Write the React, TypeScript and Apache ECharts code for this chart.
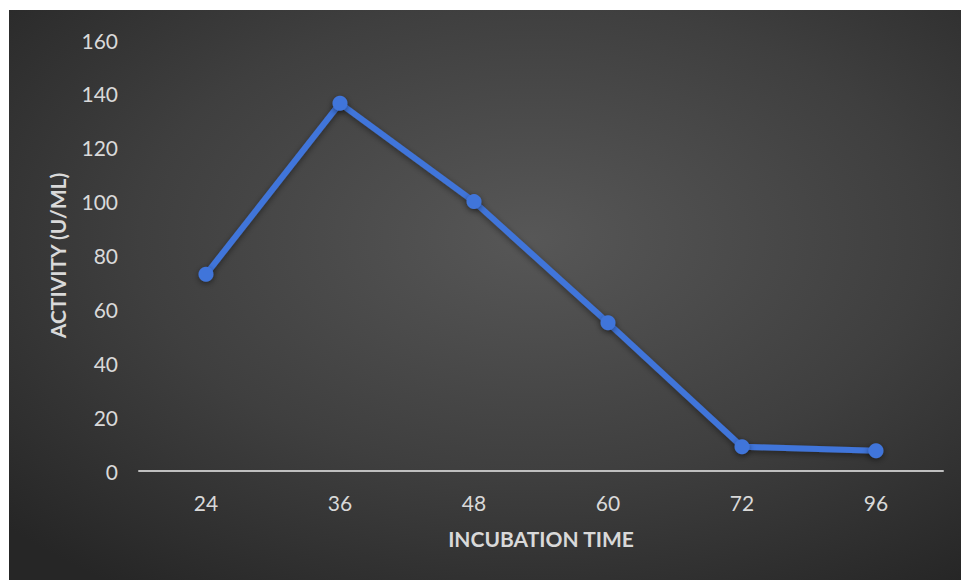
import React, { useEffect, useRef } from "react";
import * as echarts from "echarts";

// Enzyme activity over incubation time
const incubationHours = ["24", "36", "48", "60", "72", "96"];
const activityValues = [73, 136.5, 100, 55, 9, 7.5];
const yTicks = { min: 0, max: 160, interval: 20 };

const FONT = "Lato, 'Open Sans', sans-serif";

export default function App() {
  const ref = useRef<HTMLDivElement>(null);

  useEffect(() => {
    if (!ref.current) return;
    const chart = echarts.init(ref.current, undefined, { renderer: "svg" });
    chart.setOption({
      animation: false,
      backgroundColor: {
        type: "radial",
        x: 0.55,
        y: 0.4,
        r: 0.75,
        colorStops: [
          { offset: 0, color: "#575757" },
          { offset: 0.55, color: "#3f3f3f" },
          { offset: 1, color: "#262626" },
        ],
      },
      grid: { left: 130, right: 18, top: 30, bottom: 109 },
      xAxis: {
        type: "category",
        data: incubationHours,
        boundaryGap: true,
        name: "INCUBATION TIME",
        nameLocation: "middle",
        nameGap: 57,
        nameTextStyle: {
          color: "#d9d9d9",
          fontFamily: FONT,
          fontWeight: "bold",
          fontSize: 21,
        },
        axisLine: { lineStyle: { color: "#bfbfbf", width: 2 } },
        axisTick: { show: false },
        axisLabel: {
          color: "#d9d9d9",
          fontFamily: FONT,
          fontSize: 21,
          margin: 21,
        },
      },
      yAxis: {
        type: "value",
        min: yTicks.min,
        max: yTicks.max,
        interval: yTicks.interval,
        name: "ACTIVITY (U/ML)",
        nameLocation: "middle",
        nameRotate: 90,
        nameGap: 71,
        nameTextStyle: {
          color: "#d9d9d9",
          fontFamily: FONT,
          fontWeight: "bold",
          fontSize: 21,
        },
        axisLine: { show: false },
        axisTick: { show: false },
        splitLine: { show: false },
        axisLabel: {
          color: "#d9d9d9",
          fontFamily: FONT,
          fontSize: 21,
          margin: 21,
        },
      },
      series: [
        {
          type: "line",
          data: activityValues,
          symbol: "circle",
          symbolSize: 15,
          lineStyle: {
            color: "#4175da",
            width: 6,
            shadowColor: "rgba(0,0,0,0.45)",
            shadowBlur: 6,
            shadowOffsetY: 2,
          },
          itemStyle: {
            color: "#4175da",
            shadowColor: "rgba(0,0,0,0.45)",
            shadowBlur: 6,
            shadowOffsetY: 2,
          },
        },
      ],
    });
    return () => chart.dispose();
  }, []);

  return (
    <div
      ref={ref}
      style={{
        position: "absolute",
        left: 9,
        top: 10,
        width: 952,
        height: 570,
      }}
    />
  );
}
